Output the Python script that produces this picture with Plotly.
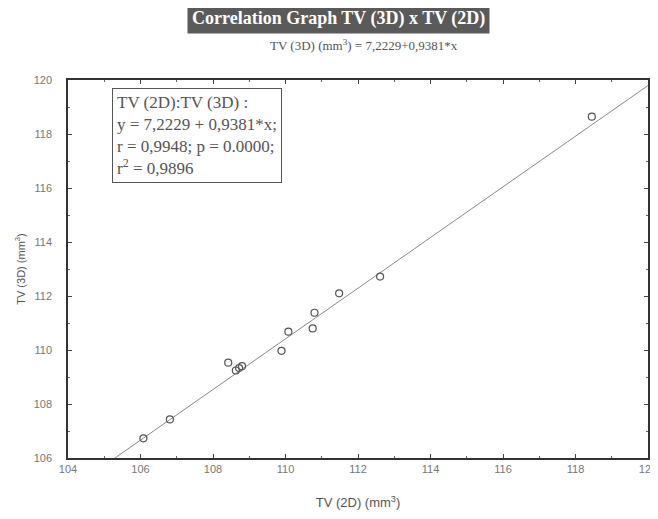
import plotly.graph_objects as go

# Data
tv_2d = [106.08, 106.81, 108.42, 108.63, 108.72, 108.80, 109.89, 110.08, 110.75, 110.80, 111.48, 112.61, 118.45]
tv_3d = [106.73, 107.43, 109.53, 109.24, 109.33, 109.40, 109.97, 110.68, 110.80, 111.38, 112.10, 112.72, 118.64]
intercept = 7.2229
slope = 0.9381
line_x = [104, 120]
line_y = [intercept + slope * v for v in line_x]
x_ticks = [104, 106, 108, 110, 112, 114, 116, 118, 120]
y_ticks = [106, 108, 110, 112, 114, 116, 118, 120]

serif = "Liberation Serif, DejaVu Serif, serif"
sans = "Liberation Sans, Arial, sans-serif"

fig = go.Figure()
fig.add_trace(go.Scatter(x=line_x, y=line_y, mode="lines",
                         line=dict(color="#8a8a8a", width=1), hoverinfo="skip",
                         showlegend=False))
fig.add_trace(go.Scatter(x=tv_2d, y=tv_3d, mode="markers",
                         marker=dict(symbol="circle-open", size=7,
                                     color="#555555", line=dict(width=1.2)),
                         showlegend=False))

axis_common = dict(showline=True, linecolor="#333333", linewidth=1.5, mirror="allticks",
                   ticks="inside", ticklen=4, tickcolor="#444444", showgrid=False,
                   zeroline=False, automargin=False,
                   tickfont=dict(family=sans, size=11, color="#777777"))

fig.update_xaxes(range=[104, 120], tickvals=x_ticks,
                 minor=dict(dtick=1, ticks="inside", ticklen=2, tickcolor="#666666"),
                 title=dict(text="TV (2D) (mm<sup>3</sup>)", font=dict(family=sans, size=13, color="#555555"), standoff=24),
                 **axis_common)
fig.update_yaxes(range=[106, 120], tickvals=y_ticks, ticklabelstandoff=12,
                 minor=dict(dtick=1, ticks="inside", ticklen=2, tickcolor="#666666"),
                 title=dict(text="TV (3D) (mm<sup>3</sup>)", font=dict(family=sans, size=11, color="#555555"), standoff=6),
                 **axis_common)

fig.add_annotation(xref="paper", yref="paper", x=0.466, y=1.0, yshift=62,
                   text="<b>Correlation Graph TV (3D) x TV (2D)</b>", showarrow=False,
                   font=dict(family=serif, size=18, color="white"),
                   bgcolor="#5a5a5a", borderpad=4, xanchor="center", yanchor="middle")
fig.add_annotation(xref="paper", yref="paper", x=0.51, y=1.0, yshift=35,
                   text="TV (3D) (mm<sup>3</sup>) = 7,2229+0,9381*x", showarrow=False,
                   font=dict(family=serif, size=13, color="#555555"),
                   xanchor="center", yanchor="middle")
fig.add_annotation(xref="paper", yref="paper", x=0.076, y=0.979,
                   text="TV (2D):TV (3D) :<br>y = 7,2229 + 0,9381*x;<br>r = 0,9948; p = 0.0000;<br>r<sup>2</sup> = 0,9896",
                   showarrow=False, align="left", xanchor="left", yanchor="top",
                   font=dict(family=serif, size=17, color="#555555"),
                   bordercolor="#555555", borderwidth=1, borderpad=4, bgcolor="white")

# The page has an 8px body margin, so the figure is drawn 8px smaller and shifted.
fig.update_layout(width=650, height=511, margin=dict(l=60, r=10, t=72, b=61),
                  plot_bgcolor="white", paper_bgcolor="white")
fig.write_html("out.html")
